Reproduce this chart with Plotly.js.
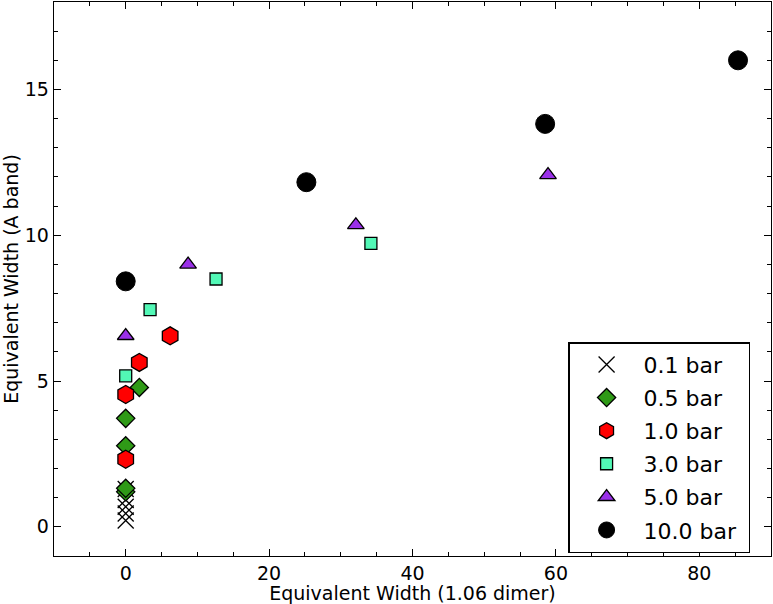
<!DOCTYPE html>
<html>
<head>
<meta charset="utf-8">
<script src="https://cdn.plot.ly/plotly-3.0.1.min.js"></script>
<style>html,body{margin:0;padding:0;background:#fff;}#chart{width:773px;height:604px;}</style>
</head>
<body>
<div id="chart"></div>
<script>
// Equivalent width of 1.06 um dimer band (x) vs A band (y), per pressure
const labels = ["0.1 bar", "0.5 bar", "1.0 bar", "3.0 bar", "5.0 bar", "10.0 bar"];
const x01 = [0, 0, 0, 0, 0];
const y01 = [1.3, 0.92, 0.69, 0.46, 0.22];
const x05 = [0, 0, 0, 0, 1.9];
const y05 = [1.2, 1.32, 2.78, 3.72, 4.78];
const x10 = [0, 0, 1.9, 6.2];
const y10 = [2.32, 4.54, 5.64, 6.55];
const x30 = [0, 3.4, 12.6, 34.2];
const y30 = [5.18, 7.45, 8.5, 9.72];
const x50 = [0, 8.7, 32.1, 58.9];
const y50 = [6.55, 9.0, 10.35, 12.07];
const x100 = [0, 25.2, 58.5, 85.4];
const y100 = [8.42, 11.82, 13.82, 16.0];

const font = "DejaVu Sans, sans-serif";
function tr(x, y, name, symbol, color, size, lw, lcol) {
  return {x: x, y: y, name: name + "\u00a0", legendgroup: name, type: "scatter", mode: "markers",
    marker: {symbol: symbol, color: color, size: size, line: {width: lw, color: lcol}}};
}
const data = [
  tr(x01, y01, labels[0], "x-thin", "#000", 16, 1.3, "#000"),
  tr(x05, y05, labels[1], "diamond", "#2f9a17", 14, 1.3, "#000"),
  tr(x10, y10, labels[2], "hexagon", "#ff0000", 18, 1.3, "#000"),
  tr(x30, y30, labels[3], "square", "#52f8b6", 12, 1.3, "#000"),
  tr(x50, y50, labels[4], "triangle-up", "#9a30e8", 14.5, 1.3, "#000"),
  tr(x100, y100, labels[5], "circle", "#000", 19, 1, "#000")
];

const axisCommon = {
  showgrid: false, zeroline: false, showline: true, linecolor: "#000", linewidth: 1.3,
  mirror: "allticks", ticks: "inside", ticklen: 7, tickwidth: 1, tickcolor: "#000",
  tickfont: {family: font, size: 19, color: "#000"}
};
const layout = {
  width: 773, height: 604,
  margin: {l: 54, r: 2, t: 2, b: 48},
  paper_bgcolor: "#fff", plot_bgcolor: "#fff",
  font: {family: font, color: "#000"},
  xaxis: Object.assign({}, axisCommon, {
    range: [-10, 90], tickmode: "array", tickvals: [0, 20, 40, 60, 80],
    minor: {dtick: 5, tick0: 0, ticks: "inside", ticklen: 4, tickcolor: "#000", tickwidth: 1},
    title: {text: "Equivalent Width (1.06 dimer)", font: {family: font, size: 19}, standoff: 0}
  }),
  yaxis: Object.assign({}, axisCommon, {
    range: [-1, 18], tickmode: "array", tickvals: [0, 5, 10, 15],
    minor: {dtick: 1, tick0: 0, ticks: "inside", ticklen: 4, tickcolor: "#000", tickwidth: 1},
    title: {text: "Equivalent Width (A band)", font: {family: font, size: 19}, standoff: 4}
  }),
  showlegend: true,
  legend: {x: 0.717, y: 0.386, xanchor: "left", yanchor: "top",
    bordercolor: "#000", borderwidth: 1.5, bgcolor: "#fff", traceorder: "grouped", tracegroupgap: 1.5,
    itemwidth: 64,
    font: {family: font, size: 22, color: "#000"}, itemsizing: "trace"}
};
Plotly.newPlot("chart", data, layout, {staticPlot: true, displayModeBar: false});
</script>
</body>
</html>
